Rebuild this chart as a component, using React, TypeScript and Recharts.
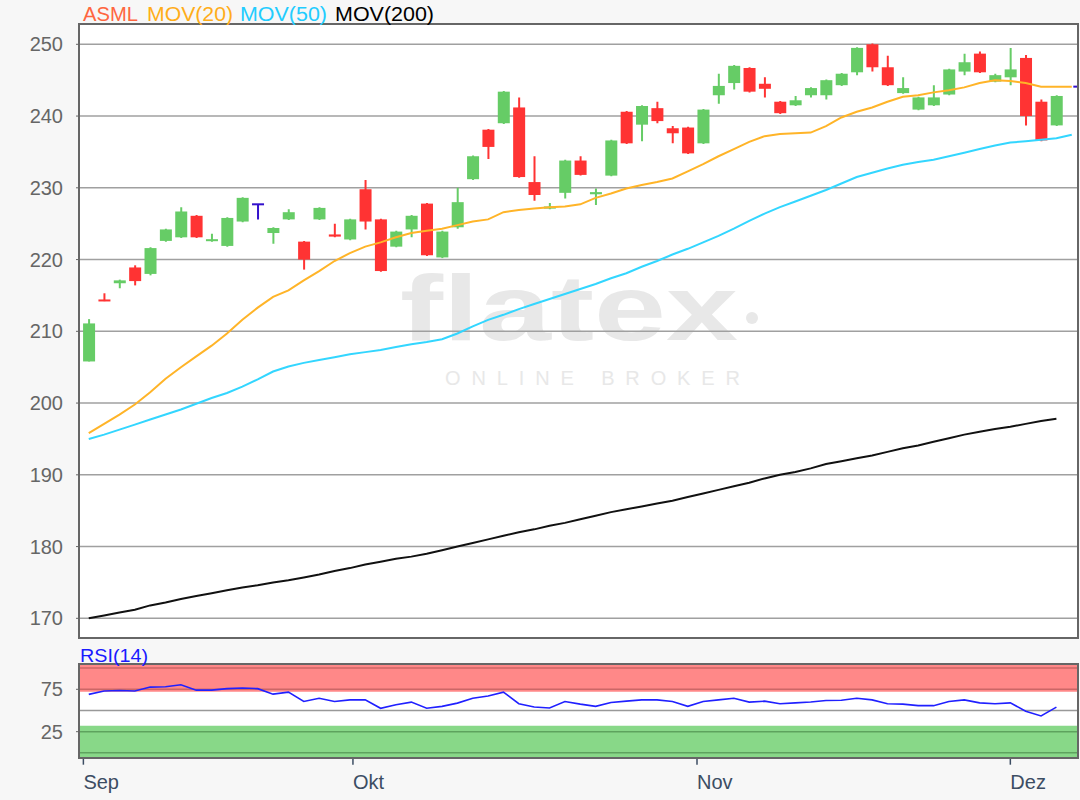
import React from 'react';
import {
  ComposedChart,
  Bar,
  Line,
  XAxis,
  YAxis,
  CartesianGrid,
  ReferenceArea,
  ReferenceLine,
} from 'recharts';

// ---------- data ----------
const openP = [
  205.8, 214.4, 216.7, 218.9, 218.0, 222.6, 223.1, 226.1, 222.6, 221.9,
  225.3, 227.7, 223.7, 225.6, 222.5, 225.6, 223.5, 222.8, 229.8, 225.6,
  221.8, 224.2, 227.8, 220.3, 224.5, 231.2, 238.1, 239.0, 241.2, 230.8,
  227.1, 229.3, 233.8, 229.1, 231.7, 240.6, 238.8, 241.1, 238.3, 238.4,
  236.2, 242.9, 244.6, 246.7, 244.5, 242.0, 241.5, 242.9, 242.9, 244.3,
  246.1, 250.0, 246.8, 243.2, 240.9, 241.5, 243.0, 246.2, 248.7, 244.8,
  245.4, 248.1, 242.0, 238.7,
];
const highP = [
  211.7, 215.3, 217.2, 219.2, 221.7, 224.3, 227.3, 226.2, 223.6, 225.9,
  228.7, 227.7, 224.5, 227.0, 222.6, 227.3, 225.0, 225.7, 231.1, 225.7,
  224.0, 226.2, 227.9, 224.0, 230.0, 234.5, 238.2, 243.5, 242.6, 234.4,
  227.9, 233.9, 234.4, 229.9, 236.7, 240.7, 241.5, 242.0, 238.6, 238.5,
  241.0, 245.9, 247.1, 246.8, 245.4, 242.1, 242.8, 244.0, 245.1, 246.0,
  249.6, 250.1, 248.4, 245.4, 242.7, 244.3, 246.6, 248.7, 249.0, 245.9,
  249.5, 248.5, 242.3, 242.9,
];
const lowP = [
  205.8, 214.2, 216.0, 216.4, 217.8, 222.5, 223.0, 223.0, 222.5, 221.8,
  225.2, 225.6, 222.2, 225.5, 218.6, 225.5, 223.1, 222.7, 224.2, 218.3,
  221.7, 223.1, 220.5, 220.2, 224.3, 231.1, 234.0, 238.9, 231.4, 228.2,
  227.0, 228.5, 231.7, 227.6, 231.6, 236.1, 236.5, 239.0, 236.2, 234.7,
  236.1, 241.7, 243.7, 243.3, 242.6, 240.3, 241.4, 242.6, 242.3, 244.2,
  245.7, 246.2, 244.2, 243.1, 240.8, 241.4, 242.9, 245.7, 246.0, 244.7,
  244.3, 238.7, 236.5, 238.6,
];
const closeP = [
  211.1, 214.2, 217.1, 217.0, 221.6, 224.2, 226.7, 223.1, 222.8, 225.8,
  228.6, 227.7, 224.4, 226.6, 220.0, 227.2, 223.2, 225.6, 225.3, 218.4,
  223.9, 226.1, 220.6, 223.9, 228.0, 234.4, 235.7, 243.4, 231.5, 229.0,
  227.4, 233.8, 231.8, 229.4, 236.6, 236.2, 241.4, 239.3, 237.6, 234.8,
  240.9, 244.2, 247.0, 243.4, 243.8, 240.4, 242.2, 243.9, 245.0, 245.9,
  249.5, 246.8, 244.3, 243.9, 242.6, 242.6, 246.5, 247.5, 246.1, 245.7,
  246.5, 240.0, 236.6, 242.8,
];
const mov20 = [
  195.8, 197.1, 198.4, 199.8, 201.5, 203.4, 205.0, 206.5, 208.0, 209.7,
  211.6, 213.3, 214.8, 215.7, 217.1, 218.4, 219.8, 220.9, 221.8, 222.4,
  223.1, 223.7, 224.0, 224.3, 224.8, 225.3, 225.6, 226.6, 226.9, 227.1,
  227.3, 227.4, 227.7, 228.6, 229.2, 229.9, 230.4, 230.8, 231.3, 232.3,
  233.3, 234.4, 235.4, 236.4, 237.2, 237.5, 237.6, 237.7, 238.6, 239.8,
  240.6, 241.2, 242.0, 242.7, 242.9, 243.3, 243.6, 244.0, 244.6, 245.0,
  244.9, 244.6, 244.1, 244.1, 244.1,
];
const mov50 = [
  195.0, 195.6, 196.3, 197.0, 197.7, 198.4, 199.1, 199.9, 200.7, 201.4,
  202.3, 203.3, 204.4, 205.1, 205.6, 206.0, 206.4, 206.8, 207.1, 207.4,
  207.8, 208.2, 208.5, 208.9, 209.7, 210.7, 211.6, 212.3, 213.1, 213.8,
  214.5, 215.2, 215.9, 216.6, 217.4, 218.1, 219.0, 219.8, 220.7, 221.5,
  222.4, 223.3, 224.3, 225.4, 226.4, 227.3, 228.1, 228.9, 229.7, 230.6,
  231.5, 232.1, 232.7, 233.2, 233.6, 233.9, 234.4, 234.9, 235.4, 235.9,
  236.3, 236.5, 236.7, 236.9, 237.4,
];
const mov200 = [
  170.0, 170.4, 170.8, 171.2, 171.8, 172.2, 172.7, 173.1, 173.5, 173.9,
  174.3, 174.6, 175.0, 175.3, 175.7, 176.1, 176.6, 177.0, 177.5, 177.9,
  178.3, 178.6, 179.0, 179.5, 180.0, 180.5, 181.0, 181.5, 182.0, 182.4,
  182.9, 183.3, 183.8, 184.3, 184.8, 185.2, 185.6, 186.0, 186.4, 186.9,
  187.4, 187.9, 188.4, 188.9, 189.5, 190.0, 190.4, 190.9, 191.5, 191.9,
  192.3, 192.7, 193.2, 193.7, 194.1, 194.6, 195.1, 195.6, 196.0, 196.4,
  196.7, 197.1, 197.5, 197.8,
];
const rsi14 = [
  69.0, 73.0, 73.5, 73.0, 77.6, 78.0, 80.3, 74.0, 74.0, 75.8,
  76.5, 75.8, 69.3, 71.6, 60.6, 64.4, 60.6, 62.5, 62.5, 52.6,
  56.8, 59.9, 52.6, 54.9, 58.7, 64.4, 67.0, 71.6, 58.0, 54.2,
  53.0, 60.6, 57.5, 54.9, 59.4, 61.0, 62.5, 62.5, 60.6, 54.9,
  60.6, 62.5, 64.4, 59.9, 61.0, 58.0, 59.0, 60.0, 61.7, 62.0,
  64.4, 62.5, 58.0, 57.5, 55.7, 55.7, 60.6, 62.5, 59.0, 58.0,
  59.0, 49.2, 43.5, 54.0,
];
const priceTicks = [170, 180, 190, 200, 210, 220, 230, 240, 250];
const rsiTicks = [25, 75];
const monthTickPos = [-0.35, 17.2, 39.6, 60.0];
const monthLabels = ['Sep', 'Okt', 'Nov', 'Dez'];
const lastMarker = 244.1;

const data = mov20.map((_, i) => ({
  i,
  open: openP[i],
  high: highP[i],
  low: lowP[i],
  close: closeP[i],
  mov20: mov20[i],
  mov50: mov50[i],
  mov200: mov200[i],
  rsi: rsi14[i],
}));

const FONT = '"Liberation Sans", Arial, sans-serif';
const X_DOMAIN: [number, number] = [-0.57, 64.34];

const Candle = (props: any) => {
  const { x, y, width, height, payload } = props;
  if (!payload || payload.high == null || y == null) return null;
  const { open, high, low, close } = payload;
  const top = Math.min(y, y + height);
  const h = Math.abs(height);
  const ppu = h / (high - low);
  const yOf = (v: number) => top + (high - v) * ppu;
  const cx = x + width / 2;
  const color = close > open ? '#66cc66' : close < open ? '#ff3333' : '#3311cc';
  const bTop = yOf(Math.max(open, close));
  const bBot = yOf(Math.min(open, close));
  const bh = Math.max(bBot - bTop, 2);
  const by = bBot - bTop < 2 ? (bTop + bBot) / 2 - 1 : bTop;
  return (
    <g>
      <line x1={cx} x2={cx} y1={top} y2={top + h} stroke={color} strokeWidth={2} />
      <rect x={cx - 6} y={by} width={12} height={bh} fill={color} />
    </g>
  );
};

const MonthTick = (props: any) => {
  const { x, y, payload } = props;
  const idx = monthTickPos.indexOf(payload.value);
  return (
    <text x={x} y={y + 22} textAnchor="start" fontSize={20} fontFamily={FONT} fill="#3c4d63">
      {monthLabels[idx] ?? ''}
    </text>
  );
};

export default function App() {
  return (
    <div
      style={{
        position: 'absolute',
        left: 0,
        top: 0,
        width: 1080,
        height: 800,
        background: '#f7f7f7',
        fontFamily: FONT,
        overflow: 'hidden',
      }}
    >
      {/* plot backgrounds */}
      <div style={{ position: 'absolute', left: 79, top: 24, width: 999, height: 614, background: '#fff' }} />
      <div style={{ position: 'absolute', left: 79, top: 664, width: 999, height: 94, background: '#fff' }} />

      {/* watermark */}
      <svg width={1080} height={800} style={{ position: 'absolute', left: 0, top: 0 }}>
        <text
          x={400}
          y={340}
          fontSize={92}
          fontWeight={700}
          fontFamily={FONT}
          fill="#e8e8e8"
          textLength={338}
          lengthAdjust="spacingAndGlyphs"
        >
          flatex
        </text>
        <circle cx={752} cy={318} r={6} fill="#e8e8e8" />
        <text
          x={445}
          y={385}
          fontSize={20}
          fontFamily={FONT}
          fill="#e8e8e8"
          textLength={295}
          lengthAdjust="spacing"
        >
          ONLINE BROKER
        </text>
      </svg>

      {/* main price chart */}
      <div style={{ position: 'absolute', left: 0, top: 0 }}>
        <ComposedChart
          width={1080}
          height={650}
          data={data}
          margin={{ top: 24, right: 3, bottom: 12.3, left: 0 }}
        >
          <CartesianGrid vertical={false} stroke="#a0a0a0" strokeWidth={1.5} />
          <XAxis dataKey="i" type="number" domain={X_DOMAIN} allowDataOverflow hide />
          <YAxis
            domain={[167.3, 252.83]}
            ticks={priceTicks}
            interval={0}
            allowDataOverflow
            width={80}
            tickSize={4}
            tickMargin={13}
            axisLine={false}
            tickLine={{ stroke: '#666' }}
            tick={{ fontSize: 20, fill: '#666', fontFamily: FONT }}
          />
          <Line dataKey="mov200" type="linear" stroke="#111" strokeWidth={2} dot={false} isAnimationActive={false} />
          <Line dataKey="mov50" type="linear" stroke="#33d6ff" strokeWidth={2} dot={false} isAnimationActive={false} />
          <Line dataKey="mov20" type="linear" stroke="#ffb428" strokeWidth={2} dot={false} isAnimationActive={false} />
          <Bar
            dataKey={(d: any) => (d.high == null ? null : [d.low, d.high])}
            shape={<Candle />}
            barSize={12}
            isAnimationActive={false}
          />
          <ReferenceLine
            segment={[
              { x: 64.1, y: lastMarker },
              { x: 64.34, y: lastMarker },
            ]}
            stroke="#3311cc"
            strokeWidth={2}
          />
        </ComposedChart>
      </div>

      {/* RSI chart */}
      <div style={{ position: 'absolute', left: 0, top: 640 }}>
        <ComposedChart
          width={1080}
          height={160}
          data={data}
          margin={{ top: 24.3, right: 3, bottom: 0, left: 0 }}
        >
          <XAxis
            dataKey="i"
            type="number"
            domain={X_DOMAIN}
            allowDataOverflow
            ticks={monthTickPos}
            interval={0}
            height={42.3}
            tickSize={7}
            axisLine={false}
            tickLine={{ stroke: '#3c4d63', strokeWidth: 1.5 }}
            tick={<MonthTick />}
          />
          <YAxis
            domain={[-5.7, 104.5]}
            ticks={rsiTicks}
            interval={0}
            allowDataOverflow
            width={80}
            tickSize={4}
            tickMargin={13}
            axisLine={false}
            tickLine={{ stroke: '#666' }}
            tick={{ fontSize: 20, fill: '#666', fontFamily: FONT }}
          />
          <ReferenceArea y1={72} y2={104.5} fill="#ff8888" fillOpacity={1} stroke="none" />
          <ReferenceArea y1={-5.7} y2={32} fill="#88d888" fillOpacity={1} stroke="none" />
          <ReferenceLine y={100} stroke="#cc6666" strokeWidth={1.5} />
          <ReferenceLine y={75} stroke="#cc6666" strokeWidth={1.5} />
          <ReferenceLine y={50} stroke="#999" strokeWidth={1.5} />
          <ReferenceLine y={25} stroke="#5ea35e" strokeWidth={1.5} />
          <ReferenceLine y={0} stroke="#5ea35e" strokeWidth={1.5} />
          <Line dataKey="rsi" type="linear" stroke="#2020ff" strokeWidth={1.6} dot={false} isAnimationActive={false} />
        </ComposedChart>
      </div>

      {/* frames */}
      <div
        style={{
          position: 'absolute',
          left: 78,
          top: 23,
          width: 1001,
          height: 616,
          boxSizing: 'border-box',
          border: '2px solid #666',
          pointerEvents: 'none',
        }}
      />
      <div
        style={{
          position: 'absolute',
          left: 78,
          top: 663,
          width: 1001,
          height: 96,
          boxSizing: 'border-box',
          border: '2px solid #666',
          pointerEvents: 'none',
        }}
      />

      {/* header labels */}
      <svg width={1080} height={800} style={{ position: 'absolute', left: 0, top: 0, pointerEvents: 'none' }}>
        <text x={83} y={21} fontSize={20} fontFamily={FONT} fill="#ff6640" textLength={55} lengthAdjust="spacingAndGlyphs">ASML</text>
        <text x={147} y={21} fontSize={20} fontFamily={FONT} fill="#ffad1a" textLength={86} lengthAdjust="spacingAndGlyphs">MOV(20)</text>
        <text x={240} y={21} fontSize={20} fontFamily={FONT} fill="#22ccff" textLength={87} lengthAdjust="spacingAndGlyphs">MOV(50)</text>
        <text x={335} y={21} fontSize={20} fontFamily={FONT} fill="#000" textLength={99} lengthAdjust="spacingAndGlyphs">MOV(200)</text>
        <text x={80} y={662} fontSize={19} fontFamily={FONT} fill="#1a1aff" textLength={68} lengthAdjust="spacingAndGlyphs">RSI(14)</text>
      </svg>
    </div>
  );
}
